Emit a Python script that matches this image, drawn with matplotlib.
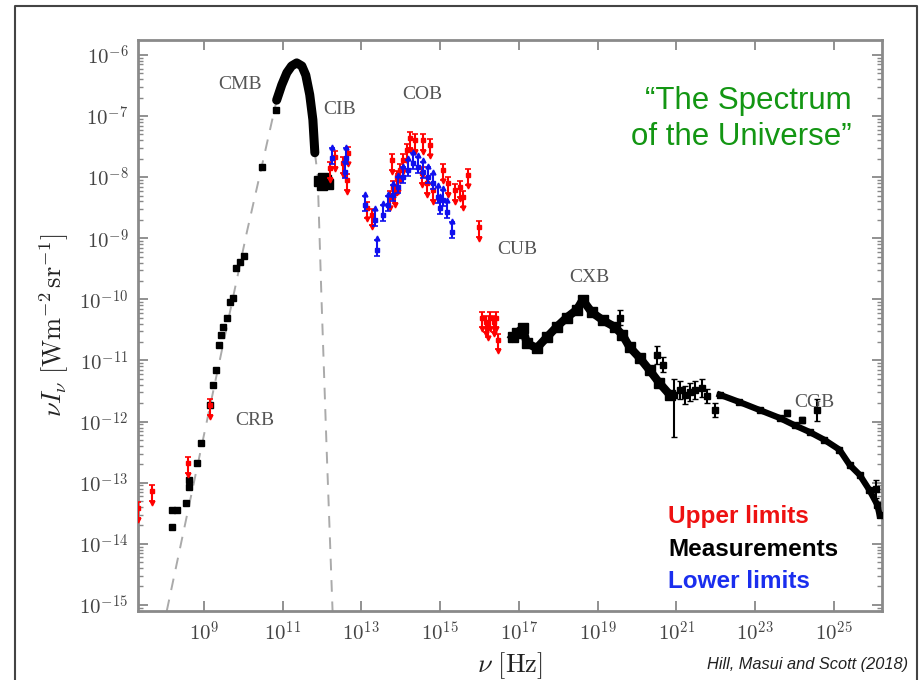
import numpy as np
import matplotlib
matplotlib.use('Agg')
import matplotlib.pyplot as plt
from matplotlib.lines import Line2D
from matplotlib.ticker import FixedLocator, FuncFormatter, LogLocator, NullFormatter

plt.rcParams['mathtext.fontset'] = 'cm'

# ---------------- data: log10(nu [Hz]), log10(nu I_nu [W m^-2 sr^-1]) ----------------
# black measurements, radio + CMB side points
crb_lognu = [8.19, 8.19, 8.31, 8.54, 8.62, 8.62, 8.82, 8.92, 9.15, 9.23, 9.30, 9.38, 9.43,
             9.48, 9.58, 9.66, 9.74, 9.81, 9.91, 10.02, 10.47, 10.83]
crb_logI = [-13.72, -13.45, -13.45, -13.33, -13.07, -12.96, -12.68, -12.35, -11.73, -11.40,
            -11.16, -10.75, -10.58, -10.45, -10.30, -10.04, -9.98, -9.49, -9.39, -9.29,
            -7.83, -6.90]
# CMB thick curve
cmb_lognu = [10.85, 10.98, 11.11, 11.23, 11.36, 11.49, 11.59, 11.69, 11.77, 11.82]
cmb_logI = [-6.74, -6.49, -6.29, -6.18, -6.13, -6.18, -6.33, -6.65, -7.06, -7.60]
# CIB black
cib_lognu = [11.92, 11.99, 12.10, 12.15, 12.02, 12.05]
cib_logI = [-8.06, -8.13, -8.05, -8.11, -8.01, -8.09]
# CXB + CGB black band
cxb_lognu = [16.84, 16.95, 17.10, 17.20, 17.45, 17.71, 17.96, 18.21, 18.47, 18.62, 18.85,
             19.13, 19.43, 19.63, 19.81, 20.07, 20.32, 20.57, 20.83]
cxb_logI = [-10.62, -10.55, -10.47, -10.71, -10.80, -10.62, -10.45, -10.30, -10.17, -10.01,
            -10.21, -10.34, -10.45, -10.58, -10.78, -10.96, -11.16, -11.37, -11.56]
cgb_lognu = [22.10, 22.60, 23.11, 23.62, 24.00, 24.38, 24.76, 25.14, 25.40, 25.65, 25.90,
             26.10, 26.16]
cgb_logI = [-11.56, -11.68, -11.81, -11.94, -12.06, -12.17, -12.30, -12.46, -12.71, -12.87,
            -13.12, -13.36, -13.53]
# scattered black points with error bars (lower / upper error in decades)
scat_lognu = [19.56, 20.50, 20.65, 20.95, 21.08, 21.21, 21.34, 21.46, 21.64, 21.77, 21.97,
              23.82, 24.18, 24.56, 26.06]
scat_logI = [-10.30, -10.91, -11.07, -11.56, -11.48, -11.56, -11.52, -11.48, -11.45, -11.58,
             -11.81, -11.86, -11.97, -11.81, -13.10]
scat_errlo = [0.12, 0.15, 0.12, 0.70, 0.15, 0.15, 0.15, 0.15, 0.15, 0.12, 0.12, 0.05, 0.05,
              0.18, 0.15]
scat_errhi = [0.12, 0.15, 0.12, 0.25, 0.15, 0.15, 0.15, 0.15, 0.15, 0.12, 0.12, 0.05, 0.05,
              0.18, 0.15]
# red upper limits
up_lognu = [7.33, 7.68, 8.60, 9.15,
            12.20, 12.32, 12.53, 12.65, 12.63,
            13.14, 13.26, 13.72, 13.77, 13.80, 13.85, 13.90, 13.92, 13.97, 14.05, 14.15,
            14.23, 14.36, 14.53, 14.56, 14.66, 14.74, 14.81, 15.07, 15.19, 15.37, 15.50,
            15.57, 15.70, 16.00,
            16.06, 16.16, 16.21, 16.26, 16.36, 16.41, 16.46]
up_logI = [-13.42, -13.14, -12.68, -11.73,
           -7.85, -7.67, -7.77, -7.60, -8.05,
           -8.50, -8.62, -8.32, -7.72, -8.16, -8.26, -8.00, -8.05, -7.88, -7.72, -7.55,
           -7.36, -7.39, -7.93, -7.39, -8.10, -7.47, -8.21, -7.88, -8.10, -8.21, -8.16,
           -8.32, -7.96, -8.82,
           -10.30, -10.37, -10.45, -10.30, -10.37, -10.30, -10.66]
# blue lower limits
lo_lognu = [12.25, 12.58, 12.60,
            13.09, 13.34, 13.39, 13.54, 13.67, 13.80, 13.92, 14.05, 14.18, 14.30, 14.43,
            14.56, 14.69, 14.81, 14.94, 14.99, 15.07, 15.17, 15.29]
lo_logI = [-7.69, -7.91, -7.69,
           -8.46, -8.70, -9.19, -8.62, -8.46, -8.29, -8.16, -8.00, -7.88, -7.77, -7.83,
           -7.91, -8.00, -8.10, -8.32, -8.50, -8.37, -8.57, -8.90]
# dashed blackbody extension
rj_lognu = [8.06, 10.09, 10.47, 10.85]
rj_logI = [-15.10, -8.91, -7.83, -6.74]
wien_lognu = [11.82, 11.89, 11.99, 12.12, 12.27]
wien_logI = [-7.60, -7.95, -10.01, -12.46, -15.10]

band_labels = ['CMB', 'CIB', 'COB', 'CUB', 'CXB', 'CGB', 'CRB']
label_lognu = [9.91, 12.45, 14.56, 16.97, 18.80, 24.51, 10.29]
label_logI = [-6.49, -6.90, -6.65, -9.19, -9.65, -11.68, -11.99]

xticks_exp = [9, 11, 13, 15, 17, 19, 21, 23, 25]
yticks_exp = [-6, -7, -8, -9, -10, -11, -12, -13, -14, -15]


def p(a):
    return 10.0 ** np.asarray(a, dtype=float)


fig = plt.figure(figsize=(9.2, 6.8), dpi=100)
ax = fig.add_axes([138 / 920, 1 - 611 / 680, (882 - 138) / 920, (611 - 40) / 680])
ax.set_xscale('log')
ax.set_yscale('log')
ax.set_xlim(p(7.33), p(26.22))
ax.set_ylim(p(-15.10), p(-5.755))

# dashed theory lines
ax.plot(p(rj_lognu), p(rj_logI), ls=(0, (6, 5)), color='#aaaaaa', lw=1.4, zorder=1)
ax.plot(p(wien_lognu), p(wien_logI), ls=(0, (6, 5)), color='#aaaaaa', lw=1.4, zorder=1)

# black measurements
ax.plot(p(cmb_lognu), p(cmb_logI), color='black', lw=6.5, solid_capstyle='round', zorder=3)
ax.plot(p(crb_lognu), p(crb_logI), 's', color='black', ms=5, zorder=3)
ax.plot(p(cib_lognu), p(cib_logI), 's', color='black', ms=6.5, zorder=3)
ax.plot(p(cxb_lognu), p(cxb_logI), '-s', color='black', lw=6, ms=7, zorder=3)
ax.plot(p(cgb_lognu), p(cgb_logI), '-s', color='black', lw=4.5, ms=5, zorder=3)
sy = p(scat_logI)
elo = np.asarray(scat_errlo)
ehi = np.asarray(scat_errhi)
ax.errorbar(p(scat_lognu), sy, yerr=[sy - sy * 10 ** -elo, sy * 10 ** ehi - sy], fmt='s',
            color='black', ms=4, elinewidth=1.5, capsize=2, zorder=3)

# red upper limits
uy = p(up_logI)
ux = p(up_lognu)
ax.errorbar(ux, uy, yerr=[uy - uy * 10 ** -0.16, uy * 10 ** 0.1 - uy], fmt='s', color='red',
            ms=3, elinewidth=1.5, capsize=2, capthick=1.2, zorder=4)
ax.plot(ux, uy * 10 ** -0.19, 'v', color='red', ms=3.5, zorder=4)

# blue lower limits
ly = p(lo_logI)
lx = p(lo_lognu)
ax.errorbar(lx, ly, yerr=[ly - ly * 10 ** -0.1, ly * 10 ** 0.16 - ly], fmt='s', color='#1010ee',
            ms=3, elinewidth=1.5, capsize=2, capthick=1.2, zorder=5)
ax.plot(lx, ly * 10 ** 0.19, '^', color='#1010ee', ms=3.5, zorder=5)

# band labels
for t, lxv, lyv in zip(band_labels, label_lognu, label_logI):
    ax.text(p(lxv), p(lyv), t, family='Liberation Serif', fontsize=14, color='#555555',
            ha='center', va='center', zorder=6)

# ticks
fmt = FuncFormatter(lambda v, pos: r'$10^{%d}$' % int(round(np.log10(v))))
ax.xaxis.set_major_locator(FixedLocator(p(xticks_exp)))
ax.xaxis.set_major_formatter(fmt)
ax.xaxis.set_minor_locator(FixedLocator([]))
ax.yaxis.set_major_locator(FixedLocator(p(yticks_exp)))
ax.yaxis.set_major_formatter(fmt)
ax.yaxis.set_minor_locator(LogLocator(base=10, subs=np.arange(2, 10), numticks=30))
ax.yaxis.set_minor_formatter(NullFormatter())
ax.tick_params(which='both', direction='in', top=True, right=True, color='#888888',
               labelcolor='#444444', labelsize=15)
ax.tick_params(which='major', length=7, width=1.3, pad=7)
ax.tick_params(which='minor', length=3.5, width=1)
for s in ax.spines.values():
    s.set_color('#8a8a8a')
    s.set_linewidth(2)

ax.set_xlabel(r'$\nu\ [\mathrm{Hz}]$', fontsize=19, color='#222222', labelpad=4)
ax.set_ylabel(r'$\nu I_\nu\ [\mathrm{Wm}^{-2}\,\mathrm{sr}^{-1}]$', fontsize=19,
              color='#222222', labelpad=6)

# annotations
fig.text(852 / 920, 1 - 101 / 680, '\u201cThe Spectrum', family='Liberation Sans', fontsize=22.5,
         color='#139613', ha='right', va='center')
fig.text(852 / 920, 1 - 137 / 680, 'of the Universe\u201d', family='Liberation Sans', fontsize=22.5,
         color='#139613', ha='right', va='center')
fig.text(668 / 920, 1 - 517 / 680, 'Upper limits', family='Liberation Sans', fontsize=17.5,
         weight='bold', color='#ee1111', ha='left', va='center')
fig.text(668 / 920, 1 - 549 / 680, 'Measurements', family='Liberation Sans', fontsize=17.5,
         weight='bold', color='black', ha='left', va='center')
fig.text(668 / 920, 1 - 581 / 680, 'Lower limits', family='Liberation Sans', fontsize=17.5,
         weight='bold', color='#1a2eee', ha='left', va='center')
fig.text(908 / 920, 1 - 664 / 680, 'Hill, Masui and Scott (2018)', family='Liberation Sans',
         fontsize=11.8, style='italic', color='#222222', ha='right', va='center')

# slide frame
fx = [15 / 920, 15 / 920, 917 / 920, 917 / 920]
fy = [0.0, 1 - 6 / 680, 1 - 6 / 680, 0.0]
fig.add_artist(Line2D(fx, fy, transform=fig.transFigure, color='#444444', lw=1.5))

fig.savefig('out.png', dpi=100)
